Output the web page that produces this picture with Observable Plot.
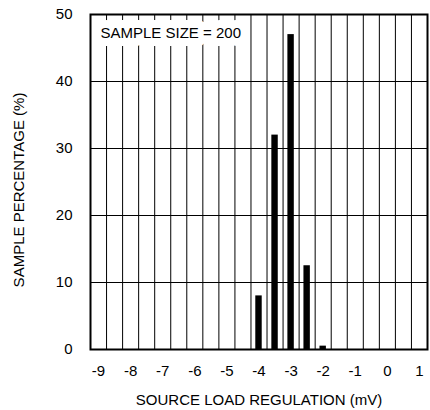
<!DOCTYPE html>
<html>
<head>
<meta charset="utf-8">
<script src="https://cdn.jsdelivr.net/npm/d3@7"></script>
<script src="https://cdn.jsdelivr.net/npm/@observablehq/plot@0.6"></script>
<style>
  html, body { margin: 0; padding: 0; background: #fff; }
  svg { display: block; }
</style>
</head>
<body>
<div id="chart"></div>
<script>
const binCenters = [-4, -3.5, -3, -2.5, -2];
const percentages = [8, 32, 47, 12.5, 0.5];
const xTicks = [-9, -8, -7, -6, -5, -4, -3, -2, -1, 0, 1];
const yTicks = [0, 10, 20, 30, 40, 50];
const xGrid = d3.range(-8.75, 1.25, 0.5);
const yGrid = [10, 20, 30, 40];
const annotation = "SAMPLE SIZE = 200";
const xLabel = "SOURCE LOAD REGULATION (mV)";
const yLabel = "SAMPLE PERCENTAGE (%)";

const data = binCenters.map((v, i) => ({v, p: percentages[i]}));
const halfWidth = 0.1;

const chart = Plot.plot({
  width: 430,
  height: 410,
  marginTop: 14,
  marginBottom: 61,
  marginLeft: 90,
  marginRight: 3,
  style: {fontFamily: "'Liberation Sans', Arial, sans-serif", fontSize: "15px", color: "#000", background: "#fff"},
  x: {domain: [-9.25, 1.25]},
  y: {domain: [0, 50]},
  marks: [
    Plot.ruleX(xGrid, {stroke: "#000", strokeWidth: 1, strokeOpacity: 1}),
    Plot.ruleY(yGrid, {stroke: "#000", strokeWidth: 1, strokeOpacity: 1}),
    Plot.text([annotation], {frameAnchor: "top-left", dx: 10, dy: 13, text: d => d, fontSize: 15, fill: "#000", stroke: "#fff", strokeWidth: 16, strokeLinejoin: "round", paintOrder: "stroke", textAnchor: "start"}),
    Plot.rectY(data, {x1: d => d.v - halfWidth, x2: d => d.v + halfWidth, y1: 0, y2: "p", fill: "#000"}),
    Plot.frame({stroke: "#000", strokeWidth: 2}),
    Plot.axisX(xTicks, {tickSize: 0, tickPadding: 16, fontSize: 15, label: null, tickFormat: d => String(d)}),
    Plot.axisY(yTicks, {tickSize: 0, tickPadding: 18, fontSize: 15, label: null, tickFormat: d => String(d)}),
    Plot.text([xLabel], {frameAnchor: "bottom", dy: 55, text: d => d, fontSize: 15, fill: "#000"}),
    Plot.text([yLabel], {frameAnchor: "left", textAnchor: "middle", dx: -71, dy: 8, rotate: -90, text: d => d, fontSize: 15, fill: "#000"})
  ]
});
document.getElementById("chart").appendChild(chart);
</script>
</body>
</html>
